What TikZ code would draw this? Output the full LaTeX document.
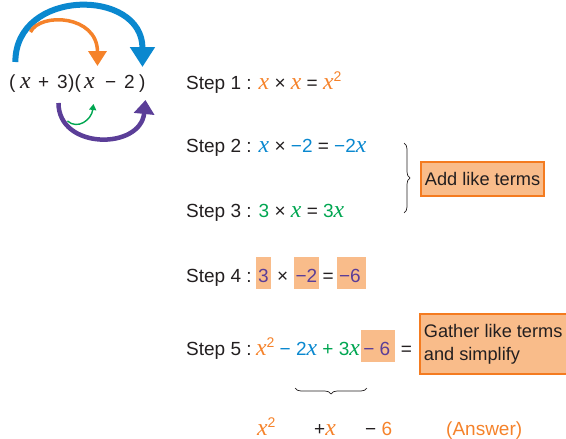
\documentclass[tikz,border=0pt]{standalone}
\usepackage{fontspec}
\setmainfont{Liberation Sans}
\newfontfamily\xfont{Liberation Serif}[Scale=1.25]
\usetikzlibrary{positioning,calc,arrows.meta,decorations.pathreplacing}

\definecolor{ordark}{HTML}{F47B20}
\definecolor{orx}{HTML}{F5822A}
\definecolor{bluex}{HTML}{0A88CF}
\definecolor{greenx}{HTML}{00A651}
\definecolor{purplex}{HTML}{5B3E98}
\definecolor{hlfill}{HTML}{F9BC8A}
\definecolor{inkx}{HTML}{231F20}

\newcommand{\vx}{{\xfont\itshape x}}
\newcommand{\sq}{\raisebox{0.42em}{\fontsize{14}{14}\selectfont 2}}

\tikzset{
  every node/.style={inner sep=0pt, text=inkx},
  txt/.style={anchor=base west, font=\fontsize{19}{23}\selectfont},
  hl/.style={txt, fill=hlfill, text=purplex, inner xsep=2pt, text height=25pt, text depth=7pt},
  notebox/.style={draw=ordark, line width=1.8pt, fill=hlfill, inner xsep=4pt, align=left, font=\fontsize{18.2}{23}\selectfont},
}

\begin{document}
\begin{tikzpicture}[x=1pt,y=-1pt]
\useasboundingbox (0,0) rectangle (566,439);

% the product
\node[txt] (lp) at (9,88) {(};
\node[txt] (x1) at (20,88) {\vx};
\node[txt] (pl) at (38,88) {+};
\node[txt] (t3) at (57,88) {3};
\node[txt] (mid) at (68,88) {)(};
\node[txt] (x2) at (84,88) {\vx};
\node[txt] (mi) at (105,88) {−};
\node[txt] (t2) at (124,88) {2};
\node[txt] (rp) at (139,88) {)};

% arrows over and under it
\draw[bluex, line width=6pt, -{Triangle[width=24pt,length=20pt]}]
  ($(lp.base)+(3,-26)$) .. controls ($(lp.base)+(3,-100)$) and ($(t2.base)+(13,-100)$) .. ($(t2.base)+(13,-21)$);
\draw[orx, line width=3.5pt, -{Triangle[width=18pt,length=15pt]}]
  ($(x1.base)+(5,-56)$) .. controls ($(x1.base)+(15,-76)$) and ($(x2.base)+(8,-73)$) .. ($(x2.base)+(8,-22)$);
\draw[purplex, line width=4.5pt, -{Triangle[width=20pt,length=14pt]}]
  ($(t3.base)+(-4,15)$) .. controls ($(t3.base)+(-4,62)$) and ($(t2.base)+(11,62)$) .. ($(t2.base)+(16,12)$);
\draw[greenx, line width=1.4pt, -{Triangle[width=7pt,length=6pt]}]
  ($(t3.base)+(5,33)$) .. controls ($(t3.base)+(15,42)$) and ($(x2.base)+(2,32)$) .. ($(x2.base)+(4,16)$);

% steps 1 to 3
\node[txt] (s1) at (186,89) {Step 1 : {\color{orx}\vx} × {\color{orx}\vx} = {\color{orx}\vx\sq}};
\node[txt] (s2) at (186,152) {Step 2 : {\color{bluex}\vx} × {\color{bluex}−2} = {\color{bluex}−2\vx}};
\node[txt] (s3) at (186,217) {Step 3 : {\color{greenx}3} × {\color{greenx}\vx} = {\color{greenx}3\vx}};

\coordinate (bt) at (404,143);
\coordinate (bb) at (404,213);
\draw[inkx, line width=0.7pt, decorate, decoration={brace, amplitude=6pt}] (bt) -- (bb);
\node[notebox, anchor=west, minimum height=34pt] (add) at (420,179) {Add like terms};

% step 4
\node[txt] (s4) at (186,282) {Step 4 :};
\node[hl, right=4pt of s4.base east, anchor=base west] (h3) {3};
\node[txt, right=6pt of h3.base east, anchor=base west] (tm4) {×};
\node[hl, right=5pt of tm4.base east, anchor=base west] (hm2) {−2};
\node[txt, right=3pt of hm2.base east, anchor=base west] (eq4) {=};
\node[hl, right=3pt of eq4.base east, anchor=base west] (hm6) {−6\,};

% step 5
\node[txt] (s5) at (186,355) {Step 5 :};
\node[txt, right=4pt of s5.base east, anchor=base west] (e5) {{\color{orx}\vx\sq} {\color{bluex}− 2\vx} {\color{greenx}+ 3\vx}};
\node[hl, right=1pt of e5.base east, anchor=base west] (h56) {− 6\,};
\node[txt, right=5pt of h56.base east, anchor=base west] (eq5) {=};
\node[notebox, anchor=west, minimum height=60pt] (gat) at (419,344) {Gather like terms\\and simplify};

\coordinate (ul) at (295,388);
\coordinate (ur) at (367,388);
\draw[inkx, line width=0.7pt, decorate, decoration={brace, mirror, amplitude=6pt}] (ul) -- (ur);

% answer
\node[txt, text=orx] (a1) at (257,435) {\vx\sq};
\node[txt] (a2) at (314,435) {+{\color{orx}\vx}};
\node[txt] (a3) at (365,435) {− {\color{orx}6}};
\node[txt, text=orx] (a4) at (446,435) {(Answer)};
\end{tikzpicture}
\end{document}
